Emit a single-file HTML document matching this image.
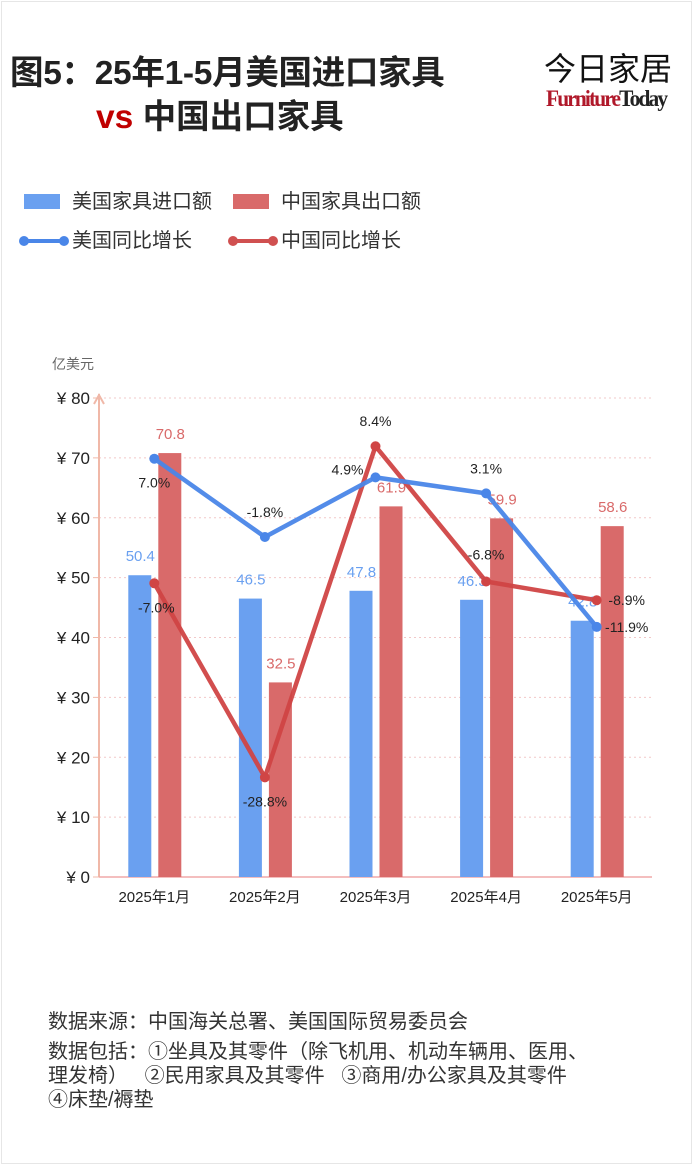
<!DOCTYPE html>
<html><head><meta charset="utf-8">
<style>
html,body{margin:0;padding:0;background:#fff;}
body{width:693px;height:1165px;position:relative;overflow:hidden;font-family:"Liberation Sans","Noto Sans CJK SC",sans-serif;}
.frame{position:absolute;left:1px;top:1px;width:689px;height:1161px;border:1px solid #e6e6e6;}
.t{position:absolute;white-space:nowrap;}
</style></head><body>
<div class="frame"></div>
<div class="t" style="left:10px;top:45px;font-size:33.5px;font-weight:bold;color:#222;letter-spacing:-0.3px;">图5：25年1-5月美国进口家具</div>
<div class="t" style="left:96px;top:89px;font-size:33.5px;font-weight:bold;color:#222;"><span style="color:#c00000">vs</span> 中国出口家具</div>
<div class="t" style="left:544px;top:44px;font-size:32px;color:#111;">今日家居</div>
<div class="t" style="left:546px;top:86px;font-size:23px;font-family:'Liberation Serif',serif;letter-spacing:-2px;font-weight:bold;transform:scaleX(0.93);transform-origin:left;"><span style="color:#b0182a">Furniture</span><span style="color:#222">Today</span></div>

<div>
<div class="t" style="left:24px;top:185px;font-size:20px;color:#333;"><span style="display:inline-block;width:36px;height:15px;background:#6aa0f0;vertical-align:-1px;margin-right:12px;"></span>美国家具进口额</div>
<div class="t" style="left:233px;top:185px;font-size:20px;color:#333;"><span style="display:inline-block;width:36px;height:15px;background:#d96a6a;vertical-align:-1px;margin-right:12px;"></span>中国家具出口额</div>
<div class="t" style="left:18px;top:224px;font-size:20px;color:#333;"><svg width="52" height="12" style="vertical-align:0;margin-right:2px"><line x1="6" y1="6" x2="46" y2="6" stroke="#4a86e8" stroke-width="4"/><circle cx="6" cy="6" r="5" fill="#4a86e8"/><circle cx="46" cy="6" r="5" fill="#4a86e8"/></svg>美国同比增长</div>
<div class="t" style="left:227px;top:224px;font-size:20px;color:#333;"><svg width="52" height="12" style="vertical-align:0;margin-right:2px"><line x1="6" y1="6" x2="46" y2="6" stroke="#d05050" stroke-width="4"/><circle cx="6" cy="6" r="5" fill="#d05050"/><circle cx="46" cy="6" r="5" fill="#d05050"/></svg>中国同比增长</div>
</div>

<svg id="chart" width="693" height="960" style="position:absolute;left:0;top:0;" font-family="Liberation Sans, Noto Sans CJK SC, sans-serif"></svg>

<div class="t" style="left:48px;top:1005px;font-size:20px;color:#333;">数据来源：中国海关总署、美国国际贸易委员会</div>
<div class="t" style="left:48px;top:1040px;font-size:20px;color:#333;line-height:24px;">数据包括：①坐具及其零件（除飞机用、机动车辆用、医用、<br>理发椅） &nbsp; ②民用家具及其零件 &nbsp; ③商用/办公家具及其零件<br>④床垫/褥垫</div>

<script>
const categories=["2025年1月","2025年2月","2025年3月","2025年4月","2025年5月"];
const usImport=[50.4,46.5,47.8,46.3,42.8];
const cnExport=[70.8,32.5,61.9,59.9,58.6];
const usGrowth=[7.0,-1.8,4.9,3.1,-11.9];
const cnGrowth=[-7.0,-28.8,8.4,-6.8,-8.9];
const yTicks=[0,10,20,30,40,50,60,70,80];

const svg=document.getElementById('chart');
const NS='http://www.w3.org/2000/svg';
const X0=99,X1=652,Y0=877,Y1=398;
const band=(X1-X0)/categories.length;
const xc=i=>X0+band*(i+0.5);
const yv=v=>Y0-(v/80)*(Y0-Y1);
const yp=p=>521-p*8.9;
function mk(tag,attrs,text){const e=document.createElementNS(NS,tag);for(const k in attrs)e.setAttribute(k,attrs[k]);if(text!==undefined)e.textContent=text;svg.appendChild(e);return e;}

let e=mk('text',{x:52,y:369,'font-size':14,fill:'#666'},'亿美元');


yTicks.forEach(t=>{
  const y=yv(t);
  if(t>0){let g=mk('line',{x1:X0,x2:X1,y1:y,y2:y,stroke:'#f2c8c8','stroke-dasharray':'2,3'});
  
  }
  let tk=mk('line',{x1:X0-6,x2:X0,y1:y,y2:y,stroke:'#f0b8a8'});
  
  
  let l=mk('text',{x:X0-9,y:y+6,'font-size':17,fill:'#222','text-anchor':'end'},'¥ '+t);
  
  
});
e=mk('line',{x1:X0,x2:X0,y1:Y0,y2:Y1-4,stroke:'#f0b8a8','stroke-width':2});


e=mk('path',{d:`M${X0-5},${Y1+6} L${X0},${Y1-3} L${X0+5},${Y1+6}`,fill:'none',stroke:'#f0b8a8','stroke-width':2});


e=mk('line',{x1:X0,x2:X1,y1:Y0,y2:Y0,stroke:'#f0a8a8','stroke-width':1.5});



categories.forEach((c,i)=>{
  const cx=xc(i);
  let l=mk('text',{x:cx,y:902,'font-size':15,fill:'#222','text-anchor':'middle'},c);
  
  
  let b=mk('rect',{x:cx-26,y:yv(usImport[i]),width:23,height:Y0-yv(usImport[i]),fill:'#6aa0f0'});
  
  
  let r=mk('rect',{x:cx+4,y:yv(cnExport[i]),width:23,height:Y0-yv(cnExport[i]),fill:'#d96a6a'});
  
  
  let lb=mk('text',{x:cx-14,y:yv(usImport[i])-14,'font-size':15,fill:'#6aa0f0','text-anchor':'middle'},usImport[i].toFixed(1));
  
  
  let lr=mk('text',{x:cx+16,y:yv(cnExport[i])-14,'font-size':15,fill:'#d96a6a','text-anchor':'middle'},cnExport[i].toFixed(1));
  
  
});

function series(vals,color,name,offs){
  const pts=vals.map((v,i)=>[xc(i),yp(v)]);
  let p=mk('polyline',{points:pts.map(q=>q.join(',')).join(' '),fill:'none',stroke:color,'stroke-width':4.5,'stroke-linejoin':'round',opacity:0.95});
  
  
  pts.forEach((q,i)=>{
    let c=mk('circle',{cx:q[0],cy:q[1],r:5,fill:color});
    
    
    let t=mk('text',{x:q[0]+offs[i][0],y:q[1]+offs[i][1],'font-size':14,fill:'#222','text-anchor':'middle'},vals[i].toFixed(1)+'%');
    
    
  });
}
series(cnGrowth,'#d04545','cn-growth',[[2,29],[0,29],[0,-20],[0,-22],[30,5]]);
series(usGrowth,'#4a86e8','us-growth',[[0,29],[0,-20],[-28,-3],[0,-20],[30,5]]);
</script>
</body></html>
